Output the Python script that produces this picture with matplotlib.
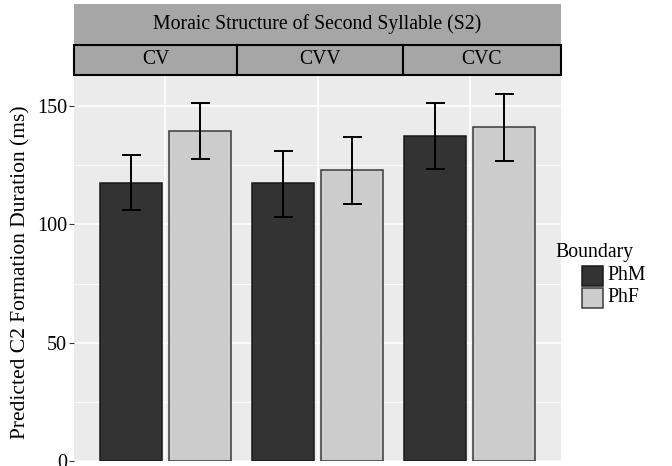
import matplotlib
matplotlib.use("Agg")
import matplotlib.pyplot as plt
from matplotlib.patches import Rectangle
import numpy as np

plt.rcParams['font.family'] = ['Liberation Serif', 'DejaVu Serif']

categories = ['CV', 'CVV', 'CVC']
boundary = ['PhM', 'PhF']
phm_mean = [117.6, 117.3, 137.3]
phm_lo = [105.9, 103.1, 123.4]
phm_hi = [129.3, 131.1, 151.4]
phf_mean = [139.4, 122.8, 141.0]
phf_lo = [127.6, 108.7, 126.7]
phf_hi = [151.1, 137.0, 155.0]
yticks = [0, 50, 100, 150]
title_strip = 'Moraic Structure of Second Syllable (S2)'
ylabel = 'Predicted C2 Formation Duration (ms)'
legend_title = 'Boundary'

W, H = 672, 466
fig = plt.figure(figsize=(W / 100, H / 100), dpi=100)

def fx(px):
    return px / W

def fy(py):
    return 1 - py / H

pl, pr, pt, pb = 74, 561, 75, 461
ax = fig.add_axes([fx(pl), fy(pb), fx(pr) - fx(pl), fy(pt) - fy(pb)])
ax.set_facecolor('#EBEBEB')
for s in ax.spines.values():
    s.set_visible(False)

x = np.arange(1, len(categories) + 1)
off = 0.226
bw = 0.405
fills = ['#333333', '#CCCCCC']
edges = ['#1A1A1A', '#3A3A3A']
means = [phm_mean, phf_mean]
los = [phm_lo, phf_lo]
his = [phm_hi, phf_hi]
for i, (m, lo, hi) in enumerate(zip(means, los, his)):
    xx = x + (-off if i == 0 else off)
    ax.bar(xx, m, width=bw, color=fills[i], edgecolor=edges[i], linewidth=1.1, zorder=3)
    m = np.array(m); lo = np.array(lo); hi = np.array(hi)
    ax.errorbar(xx, m, yerr=[m - lo, hi - m], fmt='none', ecolor='black', elinewidth=1.4,
                capsize=9.5 * 72 / 100, capthick=1.4, zorder=4)

ax.set_xlim(0.4, 3.6)
ax.set_ylim(0, 163.1)
ax.set_yticks(yticks)
ax.set_yticks([25, 75, 125], minor=True)
ax.set_xticks(x)
ax.tick_params(axis='x', which='both', length=0, labelbottom=False)
ax.tick_params(axis='y', which='major', length=3.5, width=0.8, color='#333333',
               labelsize=14.5, labelcolor='black', pad=1.5)
ax.tick_params(axis='y', which='minor', length=0)
ax.grid(True, which='major', color='white', linewidth=1.1, zorder=0)
ax.grid(True, axis='y', which='minor', color='white', linewidth=0.55, zorder=0)
ax.set_axisbelow(True)
fig.text(fx(21), fy(272), ylabel, rotation=90, ha='center', va='center', fontsize=15.5)

# strips
strip_fill = '#A6A6A6'
fig.add_artist(Rectangle((fx(pl), fy(45)), fx(pr) - fx(pl), fy(4) - fy(45),
                         transform=fig.transFigure, facecolor=strip_fill, edgecolor='none'))
fig.text(fx((pl + pr) / 2), fy(24.5), title_strip, ha='center', va='center', fontsize=14.2)
bounds = [74, 237, 403, 561]
for i, c in enumerate(categories):
    x0, x1 = bounds[i], bounds[i + 1]
    fig.add_artist(Rectangle((fx(x0), fy(75)), fx(x1) - fx(x0), fy(45) - fy(75),
                             transform=fig.transFigure, facecolor=strip_fill,
                             edgecolor='black', linewidth=1.5))
    fig.text(fx((x0 + x1) / 2), fy(60), c, ha='center', va='center', fontsize=14.2)

# legend (drawn manually to match key placement)
fig.text(fx(555), fy(252), legend_title, ha='left', va='center', fontsize=14.2)
key_tops = [266, 288]
for i in range(2):
    fig.add_artist(Rectangle((fx(582), fy(key_tops[i] + 20)), fx(603) - fx(582), fy(0) - fy(20),
                             transform=fig.transFigure, facecolor=fills[i],
                             edgecolor=edges[i], linewidth=1.1))
    fig.text(fx(607), fy(key_tops[i] + 10), boundary[i], ha='left', va='center', fontsize=14.2)

fig.savefig('out.png', dpi=100)
